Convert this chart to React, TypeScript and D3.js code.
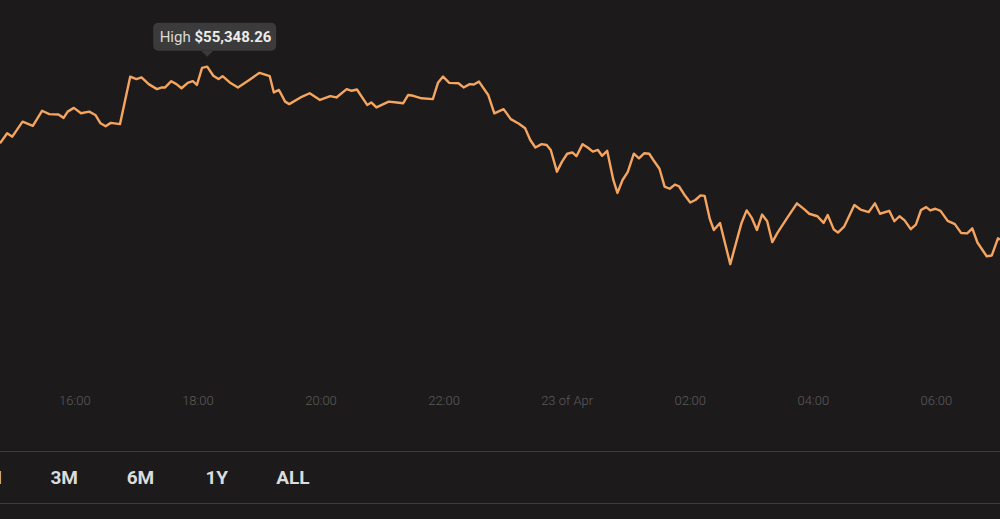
import React from 'react';
import * as d3 from 'd3';

// 5-min BTC price vertices (Apr 22 afternoon -> Apr 23 morning)
const times: string[] = [
  '14:47', '14:54', '14:59', '15:09', '15:19', '15:28', '15:35', '15:44', '15:49', '15:53',
  '15:59', '16:06', '16:14', '16:20', '16:25', '16:30', '16:35', '16:44', '16:54', '17:00',
  '17:05', '17:12', '17:20', '17:25', '17:28', '17:34', '17:39', '17:44', '17:50', '17:55',
  '17:59', '18:04', '18:09', '18:15', '18:20', '18:24', '18:31', '18:39', '18:50', '19:00',
  '19:04', '19:10', '19:14', '19:19', '19:25', '19:29', '19:40', '19:49', '19:59', '20:09',
  '20:15', '20:25', '20:30', '20:35', '20:45', '20:49', '20:54', '21:06', '21:14', '21:20',
  '21:25', '21:30', '21:38', '21:49', '21:54', '21:59', '22:05', '22:14', '22:19', '22:25',
  '22:29', '22:34', '22:43', '22:49', '22:58', '23:05', '23:13', '23:19', '23:24', '23:29',
  '23:35', '23:40', '23:44', '23:50', '23:55', '00:00', '00:05', '00:09', '00:15', '00:20',
  '00:25', '00:30', '00:34', '00:39', '00:45', '00:49', '00:54', '00:59', '01:05', '01:10',
  '01:15', '01:20', '01:24', '01:30', '01:35', '01:40', '01:45', '01:49', '01:55', '02:00',
  '02:05', '02:10', '02:14', '02:19', '02:23', '02:29', '02:39', '02:50', '02:55', '03:00',
  '03:05', '03:10', '03:15', '03:20', '03:25', '03:35', '03:44', '03:51', '03:56', '04:04',
  '04:10', '04:14', '04:20', '04:24', '04:30', '04:40', '04:46', '04:54', '05:00', '05:05',
  '05:14', '05:19', '05:24', '05:29', '05:35', '05:40', '05:45', '05:50', '05:54', '05:59',
  '06:04', '06:11', '06:18', '06:24', '06:30', '06:35', '06:40', '06:49', '06:54', '07:00',
  '07:02',
];

const prices: number[] = [
  53510, 53750, 53670, 54030, 53930, 54290, 54210, 54200, 54120, 54270,
  54360, 54230, 54270, 54190, 53990, 53920, 54000, 53970, 55110, 55050,
  55090, 54930, 54810, 54850, 54850, 55000, 54930, 54830, 54960, 55000,
  54910, 55320, 55348.26, 55130, 55050, 55120, 54970, 54850, 55030, 55200,
  55170, 55120, 54730, 54790, 54510, 54450, 54610, 54710, 54550, 54640,
  54610, 54810, 54770, 54800, 54430, 54490, 54370, 54510, 54490, 54470,
  54670, 54650, 54590, 54570, 54960, 55110, 54960, 54950, 54850, 54930,
  54920, 54990, 54670, 54230, 54330, 54090, 53980, 53870, 53590, 53410,
  53490, 53470, 53350, 52830, 53070, 53260, 53290, 53200, 53490, 53410,
  53310, 53350, 53210, 53330, 52630, 52320, 52630, 52820, 53260, 53150,
  53270, 53260, 53110, 52900, 52470, 52420, 52520, 52480, 52250, 52090,
  52150, 52260, 52250, 51700, 51430, 51600, 50610, 51600, 51900, 51720,
  51430, 51800, 51640, 51140, 51360, 51740, 52070, 51930, 51820, 51760,
  51600, 51790, 51440, 51370, 51510, 52030, 51920, 51860, 52070, 51820,
  51890, 51640, 51760, 51660, 51450, 51560, 51910, 51980, 51900, 51940,
  51890, 51650, 51570, 51360, 51350, 51470, 51130, 50800, 50820, 51230,
  51200,
];

const tickTimes: string[] = ['16:00', '18:00', '20:00', '22:00', '00:00', '02:00', '04:00', '06:00'];
const rangeButtons: string[] = ['1M', '3M', '6M', '1Y', 'ALL'];
const highLabel = 'High';

// afternoon times belong to Apr 22, early hours to Apr 23
const toDate = (t: string) => {
  const [h, m] = t.split(':').map(Number);
  return new Date(2021, 3, h < 12 ? 23 : 22, h, m);
};

const data = times.map((t, i) => ({ date: toDate(t), price: prices[i] }));

const W = 1000;
const H = 519;
const BG = '#1c1a1b';
const LINE = '#f5a55f';

const App: React.FC = () => {
  const xScale = d3
    .scaleTime()
    .domain(d3.extent(data, (d) => d.date) as [Date, Date])
    .range([0, W]);

  const yScale = d3.scaleLinear().domain([48000, 56000]).range([373, 39.5]);

  const line = d3
    .line<(typeof data)[0]>()
    .x((d) => xScale(d.date))
    .y((d) => yScale(d.price));

  const high = data.reduce((a, b) => (b.price > a.price ? b : a));
  const hx = xScale(high.date);
  const hy = yScale(high.price);

  const fmtTick = (d: Date) => (d.getHours() === 0 ? `${d.getDate()} of Apr` : d3.timeFormat('%H:%M')(d));

  // buttons evenly spaced, the first one is cut off by the left edge
  const btnX = d3.scalePoint<string>().domain(rangeButtons).range([-12, 293]);

  const boxW = 123;
  const boxH = 28;
  const boxTop = hy - 44;

  return (
    <svg
      width={W}
      height={H}
      style={{ position: 'absolute', left: 0, top: 0, background: BG }}
      fontFamily="Roboto, 'Noto Sans', sans-serif"
    >
      <rect width={W} height={H} fill={BG} />

      <path d={line(data) ?? ''} fill="none" stroke={LINE} strokeWidth={2.4} strokeLinejoin="round" />

      {/* tooltip for the high */}
      <g>
        <rect x={hx - 54} y={boxTop} width={boxW} height={boxH} rx={5} fill="#3b3b3b" />
        <path d={`M${hx - 6},${boxTop + boxH} L${hx},${boxTop + boxH + 6} L${hx + 6},${boxTop + boxH} Z`} fill="#3b3b3b" />
        <text x={hx - 47.5} y={boxTop + 19.5} fontSize={15} fill="#d9d9d9">
          {highLabel}{' '}
          <tspan fontWeight="bold" fill="#ececec">
            ${d3.format(',.2f')(high.price)}
          </tspan>
        </text>
      </g>

      {/* time axis labels */}
      {tickTimes.map((t) => {
        const d = toDate(t);
        return (
          <text key={t} x={xScale(d)} y={405} fontSize={13} fontWeight={300} fill="#5c5c5c" textAnchor="middle">
            {fmtTick(d)}
          </text>
        );
      })}

      <line x1={0} x2={W} y1={451.5} y2={451.5} stroke="#3d3b3c" strokeWidth={1} />
      <line x1={0} x2={W} y1={503.5} y2={503.5} stroke="#3d3b3c" strokeWidth={1} />

      {rangeButtons.map((b) => (
        <text key={b} x={btnX(b)} y={484} fontSize={19} fontWeight="bold" fill="#dcdcdc" textAnchor="middle">
          {b}
        </text>
      ))}
    </svg>
  );
};

export default App;
